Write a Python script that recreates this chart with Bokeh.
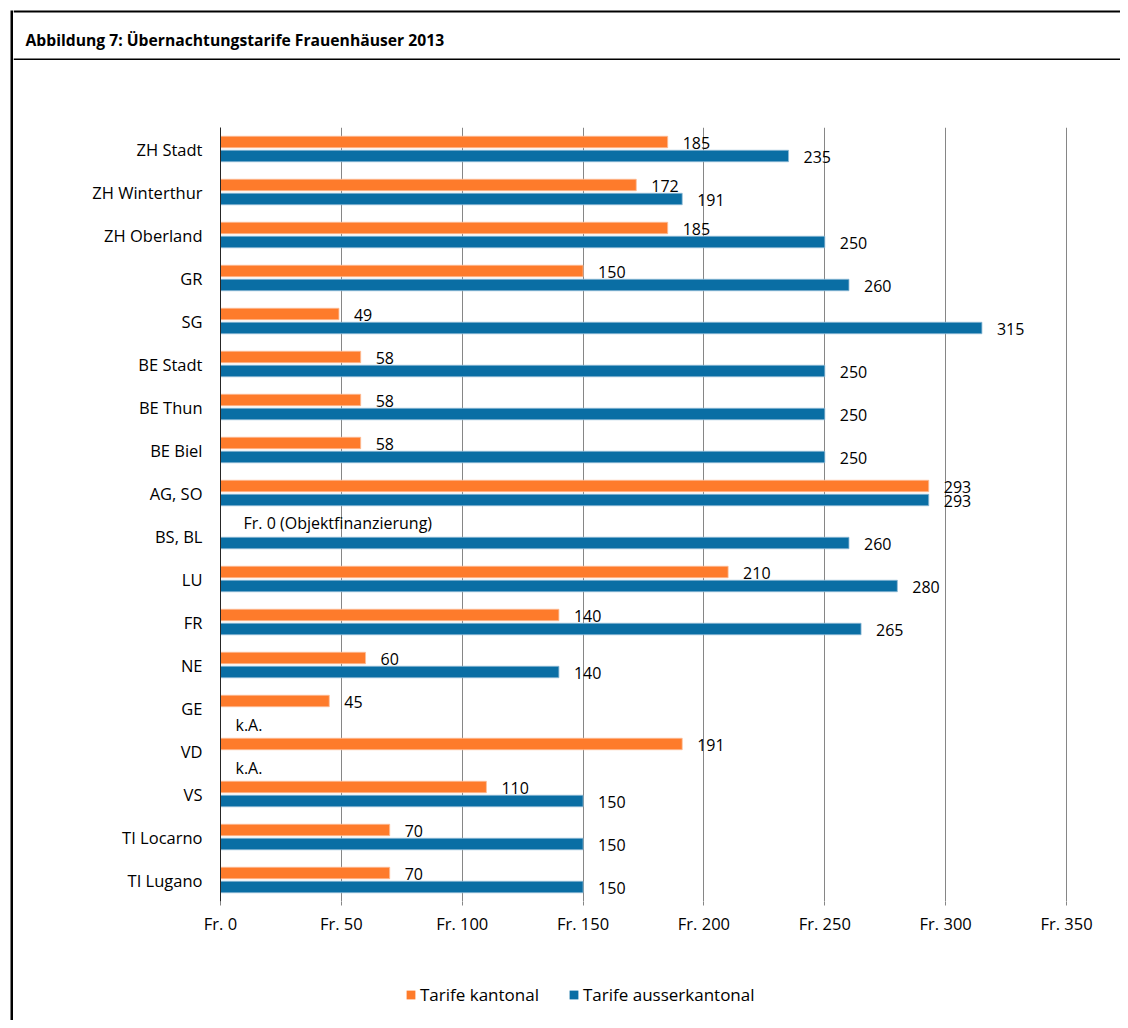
import math
from bokeh.plotting import figure
from bokeh.layouts import row, column
from bokeh.models import (ColumnDataSource, FactorRange, Range1d, FixedTicker,
                          BoxAnnotation, Label, Legend, LegendItem)
from bokeh.transform import dodge
from bokeh.core.properties import value
from bokeh.embed import file_html
from bokeh.resources import INLINE

NaN = float("nan")

# ---------------- data ----------------
title_text = "Abbildung 7: Übernachtungstarife Frauenhäuser 2013"
series_names = ["Tarife kantonal", "Tarife ausserkantonal"]

categories = ["ZH Stadt", "ZH Winterthur", "ZH Oberland", "GR", "SG",
              "BE Stadt", "BE Thun", "BE Biel", "AG, SO", "BS, BL", "LU",
              "FR", "NE", "GE", "VD", "VS", "TI Locarno", "TI Lugano"]
kantonal = [185, 172, 185, 150, 49, 58, 58, 58, 293, 0, 210, 140, 60, 45,
            191, 110, 70, 70]
ausserkantonal = [235, 191, 250, 260, 315, 250, 250, 250, 293, 260, 280,
                  265, 140, NaN, NaN, 150, 150, 150]
kantonal_notes = {"BS, BL": "Fr. 0 (Objektfinanzierung)"}
ausser_notes = {"GE": "k.A.", "VD": "k.A."}

xticks = [0, 50, 100, 150, 200, 250, 300, 350]
xtick_labels = ["Fr. 0", "Fr. 50", "Fr. 100", "Fr. 150", "Fr. 200",
                "Fr. 250", "Fr. 300", "Fr. 350"]

# label nudges (screen px) for the annotated points
kantonal_nudge = {"BS, BL": (8, -7)}
ausser_nudge = {"GE": (0, 8.5), "VD": (0, 8.5)}

# ---------------- style ----------------
ORANGE = "#FE7B2B"
BLUE = "#0A6EA4"
FONT = "Open Sans"
OFF = 0.163
BAR_H = 0.267
W = 1107          # width of the content column
STRIP_W = 13      # left strip holding the outer border line


def bare(fig):
    fig.axis.visible = False
    fig.grid.visible = False
    fig.outline_line_color = None
    fig.background_fill_color = "white"
    fig.border_fill_color = "white"
    return fig


def make_source(vals, notes, nudge):
    lx, lt, xo, yo, bar = [], [], [], [], []
    for c, v in zip(categories, vals):
        missing = isinstance(v, float) and math.isnan(v)
        bar.append(v)
        lx.append(0 if missing else v)
        lt.append(notes[c] if c in notes else str(int(v)))
        dx, dy = nudge.get(c, (0, 0))
        xo.append(15 + dx)
        yo.append(1 + dy)
    return ColumnDataSource(dict(cat=categories, val=bar, lx=lx, lt=lt,
                                 xo=xo, yo=yo))


# ---------------- left strip (outer border line) ----------------
strip = bare(figure(width=STRIP_W, height=1020, x_range=Range1d(0, STRIP_W),
                    y_range=Range1d(1020, 0), min_border=0, frame_align=False,
                    output_backend="svg", toolbar_location=None))
strip.add_layout(BoxAnnotation(left=10, right=12.7, top=10, bottom=1020,
                               fill_color="black", fill_alpha=1,
                               line_alpha=0))

# ---------------- header (title box) ----------------
header = bare(figure(width=W, height=60, x_range=Range1d(0, W),
                     y_range=Range1d(60, 0), min_border=0, frame_align=False,
                     output_backend="svg", toolbar_location=None))
header.add_layout(BoxAnnotation(left=0, right=W, top=10, bottom=12,
                                fill_color="black", fill_alpha=1,
                                line_alpha=0))
header.add_layout(BoxAnnotation(left=0, right=W, top=58, bottom=60,
                                fill_color="black", fill_alpha=1,
                                line_alpha=0))
header.add_layout(Label(x=12, y=39.3, text=title_text, text_font=FONT,
                        text_font_style="bold", text_font_size="15.7px",
                        text_color="black", text_baseline="alphabetic"))

# ---------------- main chart ----------------
src_k = make_source(kantonal, kantonal_notes, kantonal_nudge)
src_a = make_source(ausserkantonal, ausser_notes, ausser_nudge)

p = figure(width=W, height=900,
           y_range=FactorRange(factors=categories[::-1]),
           x_range=Range1d(0, 350.4), frame_align=False,
           output_backend="svg", toolbar_location=None,
           min_border_left=207, min_border_right=53,
           min_border_top=67, min_border_bottom=59)
p.outline_line_color = None
p.background_fill_color = "white"
p.border_fill_color = "white"

r_k = p.hbar(y=dodge("cat", OFF, range=p.y_range), right="val", left=0,
             height=BAR_H, fill_color=ORANGE, line_color="#FDBE98",
             line_width=0.8, source=src_k)
r_a = p.hbar(y=dodge("cat", -OFF, range=p.y_range), right="val", left=0,
             height=BAR_H, fill_color=BLUE, line_color="#8FBAD6",
             line_width=0.8, source=src_a)

for src, off in ((src_k, OFF), (src_a, -OFF)):
    p.text(x="lx", y=dodge("cat", off, range=p.y_range), text="lt",
           x_offset="xo", y_offset="yo", source=src,
           text_font=value(FONT), text_font_size="16px",
           text_color="black", text_baseline="middle", text_align="left")

p.xaxis.ticker = FixedTicker(ticks=xticks)
p.xaxis.major_label_overrides = {t: l for t, l in zip(xticks, xtick_labels)}
p.xaxis.axis_line_color = None
p.xaxis.major_tick_line_color = "#868686"
p.xaxis.major_tick_out = 4
p.xaxis.major_tick_in = 0
p.xaxis.minor_tick_line_color = None
p.xaxis.major_label_standoff = 6
p.xaxis.major_label_text_font = FONT
p.xaxis.major_label_text_font_size = "16.5px"
p.xaxis.major_label_text_color = "black"

p.yaxis.axis_line_color = "#262626"
p.yaxis.major_tick_line_color = None
p.yaxis.minor_tick_line_color = None
p.yaxis.major_tick_out = 0
p.yaxis.major_label_standoff = 18
p.yaxis.major_label_text_font = FONT
p.yaxis.major_label_text_font_size = "16.5px"
p.yaxis.major_label_text_color = "black"

p.xgrid.grid_line_color = "#868686"
p.xgrid.grid_line_width = 1
p.ygrid.grid_line_color = None

# ---------------- legend row ----------------
lf = bare(figure(width=W, height=60, x_range=Range1d(0, 1),
                 y_range=Range1d(0, 1), min_border=0, frame_align=False,
                 output_backend="svg", toolbar_location=None))
lk = lf.hbar(y=0.5, right="val", left=0, height=0.1, source=src_k,
             fill_color=ORANGE, line_color=None, visible=False)
la = lf.hbar(y=0.5, right="val", left=0, height=0.1, source=src_a,
             fill_color=BLUE, line_color=None, visible=False)
legend = Legend(items=[LegendItem(label=series_names[0], renderers=[lk]),
                       LegendItem(label=series_names[1], renderers=[la])],
                orientation="horizontal", location=(392, 14.5),
                glyph_width=11, glyph_height=11, label_standoff=4,
                spacing=29, padding=0, margin=0,
                inactive_fill_alpha=0,
                border_line_alpha=0, background_fill_alpha=0,
                label_text_font=FONT, label_text_font_size="17px",
                label_text_color="black")
lf.add_layout(legend)

layout = row(strip, column(header, p, lf))
open("out.html", "w").write(file_html(layout, INLINE))
